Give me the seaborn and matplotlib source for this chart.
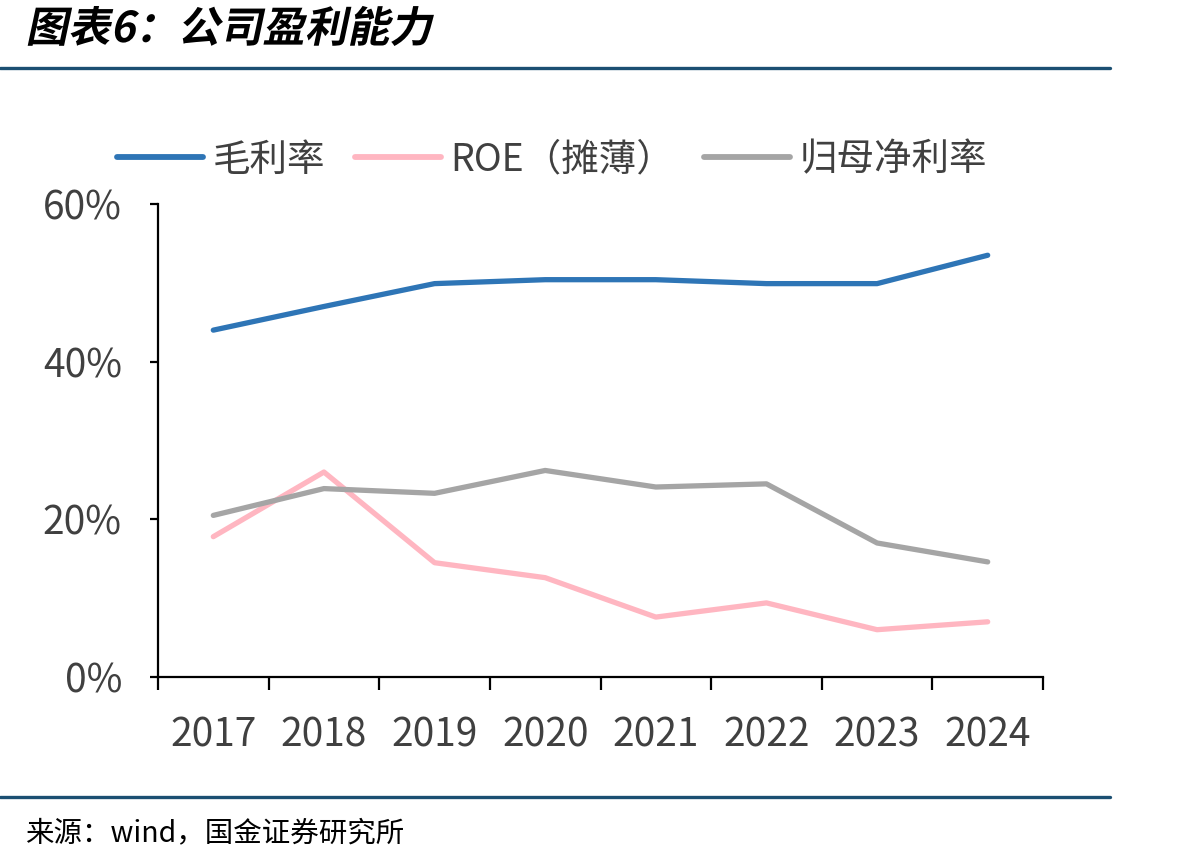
import numpy as np
import pandas as pd
import matplotlib
matplotlib.use("Agg")
import matplotlib.pyplot as plt
import seaborn as sns
from matplotlib.lines import Line2D
from matplotlib.patheffects import AbstractPathEffect
from matplotlib.ticker import FuncFormatter
from matplotlib.transforms import Affine2D

# === data (in %) ===
years = ["2017", "2018", "2019", "2020", "2021", "2022", "2023", "2024"]
gross_margin = [44.0, 47.0, 49.9, 50.4, 50.4, 49.9, 49.9, 53.5]
roe_diluted = [17.8, 26.0, 14.5, 12.6, 7.6, 9.4, 6.0, 7.0]
net_margin = [20.5, 23.9, 23.3, 26.2, 24.1, 24.5, 17.0, 14.6]
series_names = ["毛利率", "ROE（摊薄）", "归母净利率"]
colors = ["#2E75B6", "#FFB6C1", "#A5A5A5"]

df = pd.DataFrame({
    "pos": list(range(len(years))) * 3,
    "value": gross_margin + roe_diluted + net_margin,
    "series": np.repeat(series_names, len(years)),
})


class Slant(AbstractPathEffect):
    """fake italic for CJK title"""
    def __init__(self, angle, y0):
        super().__init__()
        self._t = Affine2D().translate(0, -y0).skew_deg(angle, 0).translate(0, y0)

    def draw_path(self, renderer, gc, tpath, affine, rgbFace=None):
        renderer.draw_path(gc, tpath, affine + self._t, rgbFace)


sns.set_style("white")
plt.rcParams["font.family"] = ["Noto Sans CJK SC", "DejaVu Sans"]

W, H = 1198, 866
fig = plt.figure(figsize=(W / 100, H / 100), dpi=100)
ax = fig.add_axes([158 / W, 1 - 677 / H, (1043 - 158) / W, (677 - 204) / H])

sns.lineplot(data=df, x="pos", y="value", hue="series", hue_order=series_names,
             palette=dict(zip(series_names, colors)), linewidth=3.8,
             legend=False, ax=ax, solid_capstyle="round")

# axes
ax.set_ylim(0, 60)
ax.set_yticks([0, 20, 40, 60])
ax.yaxis.set_major_formatter(FuncFormatter(lambda v, _: f"{v:.0f}%"))
ax.set_xlim(-0.5, len(years) - 0.5)
ax.set_xticks(np.arange(-0.5, len(years), 1))
ax.set_xticklabels([])
ax.set_xticks(range(len(years)), minor=True)
ax.set_xticklabels(years, minor=True)
ax.set_xlabel("")
ax.set_ylabel("")
ax.tick_params(axis="x", which="major", direction="out", length=9, width=1.6, color="black")
ax.tick_params(axis="x", which="minor", length=0, pad=28, labelsize=28, labelcolor="#404040")
ax.tick_params(axis="y", direction="out", length=6, width=1.6, color="black",
               pad=20, labelsize=28, labelcolor="#404040")
ax.tick_params(left=True, bottom=True)
for s in ["top", "right"]:
    ax.spines[s].set_visible(False)
for s in ["left", "bottom"]:
    ax.spines[s].set_color("black")
    ax.spines[s].set_linewidth(1.6)

# legend
handles = [Line2D([], [], color=c, lw=4.2, solid_capstyle="round") for c in colors]
leg = fig.legend(handles, series_names, loc="center", bbox_to_anchor=(552 / W, 1 - 160 / H),
                 ncol=3, frameon=False, fontsize=27, handlelength=2.3,
                 handletextpad=0.25, columnspacing=0.8)
for t in leg.get_texts():
    t.set_color("#404040")

# title, rules, source
fig.text(28 / W, 1 - 30 / H, "图表6：公司盈利能力", fontsize=30.5, fontweight="bold",
         ha="left", va="center", color="black", path_effects=[Slant(12, H - 30)])
for y in [68, 797]:
    fig.add_artist(Line2D([0, 1110 / W], [1 - y / H] * 2, color="#1B4F72", lw=2.4,
                          transform=fig.transFigure))
fig.text(25 / W, 1 - 833 / H, "来源：wind，国金证券研究所", fontsize=20.5,
         ha="left", va="center", color="black")

fig.savefig("out.png", dpi=100)
plt.close(fig)
